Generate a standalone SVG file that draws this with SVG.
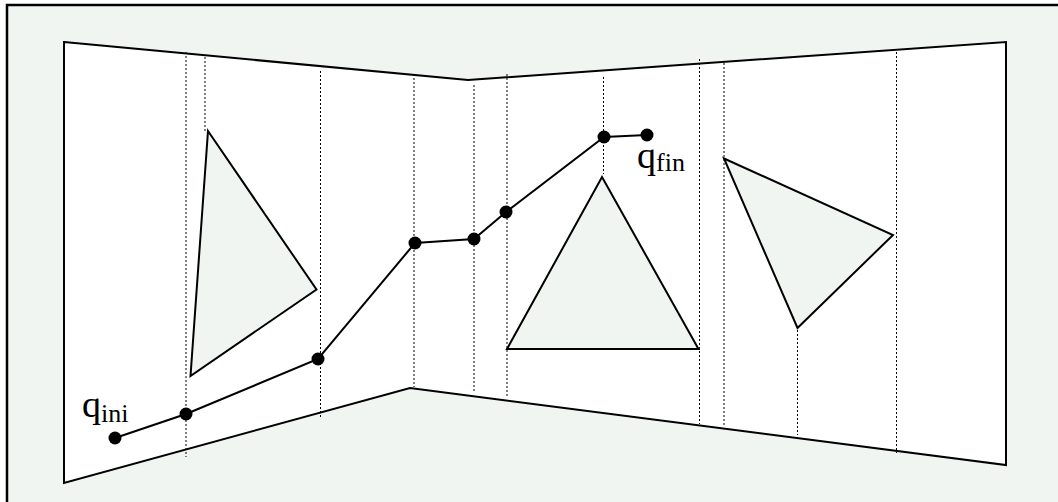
<svg xmlns="http://www.w3.org/2000/svg" width="1058" height="502" viewBox="0 0 1058 502">
<style>
.frame{fill:#f1f5f2;stroke:#000;stroke-width:2.5}
.wall{fill:#fff;stroke:#000;stroke-width:2}
.obs{fill:#f1f5f2;stroke:#000;stroke-width:2}
.div{stroke:#000;stroke-width:1;stroke-dasharray:2 2;fill:none}
.path{fill:none;stroke:#000;stroke-width:2}
.pt{fill:#000}
text{font-family:'Liberation Serif','Times New Roman','DejaVu Serif',serif;fill:#000}
</style>
<rect class="frame" x="7" y="5" width="1070" height="520"/>
<g id="walls">
<polygon class="wall" points="64,42 468,80 1006,42 1006,465 410,388 64,483"/>
</g>
<g id="dividers">
<line class="div" x1="186" y1="52" x2="186" y2="457"/>
<line class="div" x1="205" y1="57" x2="205" y2="131"/>
<line class="div" x1="320.5" y1="71" x2="320.5" y2="417"/>
<line class="div" x1="414" y1="78" x2="414" y2="387"/>
<line class="div" x1="474" y1="85" x2="474" y2="393"/>
<line class="div" x1="507" y1="74" x2="507" y2="397"/>
<line class="div" x1="603.5" y1="77" x2="603.5" y2="174"/>
<line class="div" x1="699.5" y1="59" x2="699.5" y2="424"/>
<line class="div" x1="724" y1="63" x2="724" y2="427"/>
<line class="div" x1="797.5" y1="322" x2="797.5" y2="435"/>
<line class="div" x1="896.5" y1="52" x2="896.5" y2="453"/>
</g>
<g id="obstacle-1"><polygon class="obs" points="208,131 316.5,289.5 190.5,376"/></g>
<g id="obstacle-2"><polygon class="obs" points="602,177 698.5,349 507,349"/></g>
<g id="obstacle-3"><polygon class="obs" points="724,158.5 893,235 797.5,328"/></g>
<g id="connectors">
<polyline class="path" points="115,438 186,414 318,359 415,243 474,239 506,212 604,137 647,135"/>
</g>
<g id="waypoints">
<circle class="pt" cx="115" cy="438" r="6.5"/>
<circle class="pt" cx="186" cy="414" r="6.5"/>
<circle class="pt" cx="318" cy="359" r="6.5"/>
<circle class="pt" cx="415" cy="243" r="6.5"/>
<circle class="pt" cx="474" cy="239" r="6.5"/>
<circle class="pt" cx="506" cy="212" r="6.5"/>
<circle class="pt" cx="604" cy="137" r="6.5"/>
<circle class="pt" cx="647" cy="135" r="6.5"/>
</g>
<g id="label-qini">
<text x="82" y="417" font-size="38">q<tspan font-size="26" dy="5">ini</tspan></text>
</g>
<g id="label-qfin">
<text x="637" y="168" font-size="38">q<tspan font-size="26" dy="3">fin</tspan></text>
</g>
</svg>
